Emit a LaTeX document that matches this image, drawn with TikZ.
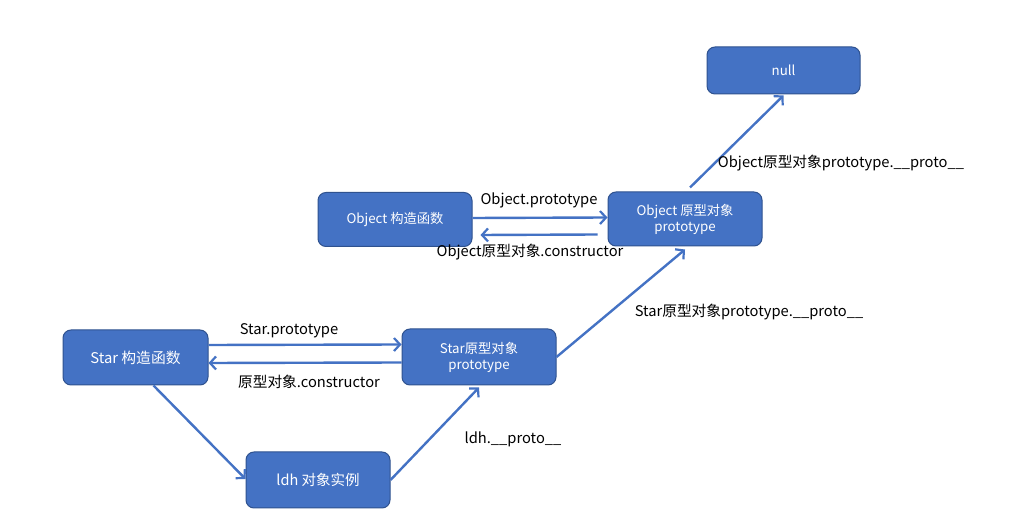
\documentclass[tikz,border=0pt]{standalone}
\usepackage{fontspec}
\setmainfont{Noto Sans CJK SC}
\usetikzlibrary{arrows.meta}
\definecolor{boxfill}{HTML}{4472C4}
\definecolor{boxline}{HTML}{2F528F}
\definecolor{arrowc}{HTML}{4472C4}
\begin{document}
\begin{tikzpicture}[x=1pt,y=-1pt,
  box/.style={draw=boxline,line width=1pt,fill=boxfill,rounded corners=8pt,
    text=white,font=\fontsize{13.3}{16}\selectfont,align=center,inner sep=0pt,
    minimum width=#1,minimum height=54pt},
  box/.default=154pt,
  conn/.style={draw=arrowc,line width=2.4pt,-{Straight Barb[length=6pt,width=13pt,line width=2.2pt]}},
  lbl/.style={font=\fontsize{14.7}{17}\selectfont,text=black,inner sep=0pt}]
\useasboundingbox (0,0) rectangle (1026,526);
\fill[white] (0,0) rectangle (1026,526);
% nodes
\node[box=153pt,minimum height=47pt] (null) at (783.5,70.5) {null};
\node[box] (objc) at (395,219.5) {Object 构造函数};
\node[box] (objp) at (685,219) {Object 原型对象\\prototype};
\node[box=145pt,minimum height=55pt,font=\fontsize{14.8}{17}\selectfont] (starc) at (135.5,357.5) {Star 构造函数};
\node[box,minimum height=56pt] (starp) at (479,357) {Star原型对象\\prototype};
\node[box=144pt,minimum height=56pt,font=\fontsize{14.5}{17}\selectfont] (ldh) at (318,480) {ldh 对象实例};
% connectors
\draw[conn] ([yshift=1.5pt]objc.east) -- ([yshift=1.5pt]objp.west);
\draw[conn] ([xshift=-10pt,yshift=-15.5pt]objp.west) -- ([xshift=8pt,yshift=-15.5pt]objc.east);
\draw[conn] ([yshift=12.5pt]starc.east) -- ([yshift=12.5pt]starp.west);
\draw[conn] ([yshift=-5.5pt]starp.west) -- ([yshift=-5.5pt]starc.east);
\draw[conn] ([xshift=18pt]starc.south) -- ([yshift=1pt]ldh.west);
\draw[conn] (ldh.east) -- ([yshift=-2pt]starp.south);
\draw[conn] (starp.east) -- ([yshift=-3pt]objp.south);
\draw[conn] ([xshift=5pt,yshift=4pt]objp.north) -- ([yshift=-1pt]null.south);
% labels
\node[lbl] (l1) at (539,200) {Object.prototype};
\node[lbl] (l2) at (530,252) {Object原型对象.constructor};
\node[lbl] (l3) at (289,331) {Star.prototype};
\node[lbl] (l4) at (309,382) {原型对象.constructor};
\node[lbl] (l5) at (513,439) {ldh.\_\_proto\_\_};
\node[lbl] (l6) at (749,312) {Star原型对象prototype.\_\_proto\_\_};
\node[lbl] (l7) at (841,163) {Object原型对象prototype.\_\_proto\_\_};
\end{tikzpicture}
\end{document}
